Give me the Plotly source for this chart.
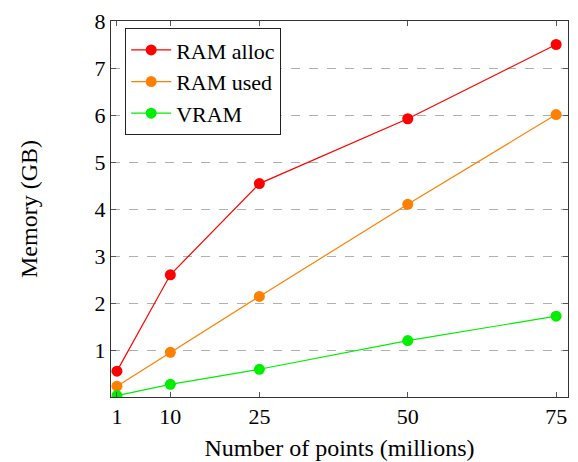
import plotly.graph_objects as go

points = [1, 10, 25, 50, 75]
ram_alloc = [0.55, 2.60, 4.54, 5.92, 7.50]
ram_used = [0.23, 0.95, 2.14, 4.10, 6.01]
vram = [0.03, 0.27, 0.59, 1.20, 1.72]
x_ticks = [1, 10, 25, 50, 75]
y_ticks = [1, 2, 3, 4, 5, 6, 7, 8]

FONT = "Liberation Serif"
series = [("RAM alloc", ram_alloc, "#ff0000"),
          ("RAM used", ram_used, "#ff8000"),
          ("VRAM", vram, "#00ee00")]

fig = go.Figure()
for name, vals, col in series:
    fig.add_trace(go.Scatter(x=points, y=vals, name=name, mode="lines+markers",
                             line=dict(color=col, width=1.2),
                             marker=dict(color=col, size=11)))

# page body has an 8px margin, so the figure is sized 570x454
fig.update_layout(
    width=570, height=454,
    margin=dict(l=103, r=10, t=13, b=65, autoexpand=False),
    paper_bgcolor="white", plot_bgcolor="white",
    font=dict(family=FONT, size=22, color="black"),
    showlegend=True,
    legend=dict(x=0.031, y=0.981, xanchor="left", yanchor="top",
                bordercolor="#222", borderwidth=1, bgcolor="white",
                font=dict(family=FONT, size=22), tracegroupgap=0,
                itemwidth=40),
)
fig.update_xaxes(range=[0, 77], tickvals=x_ticks, ticktext=[str(v) for v in x_ticks],
                 automargin=False,
                 showgrid=False, zeroline=False, showline=True, linecolor="#333",
                 linewidth=1, mirror="ticks", ticks="inside", ticklen=5, tickcolor="#555",
                 tickfont=dict(size=22),
                 title=dict(text="Number of points (millions)", font=dict(size=24), standoff=10))
fig.update_yaxes(range=[0, 8], tickvals=y_ticks, ticktext=[str(v) for v in y_ticks],
                 automargin=False, ticklabeloverflow="allow",
                 showgrid=True, gridcolor="#b0b0b0", griddash="dash", gridwidth=1,
                 zeroline=False, showline=True, linecolor="#333", linewidth=1,
                 mirror="ticks", ticks="inside", ticklen=5, tickcolor="#555",
                 tickfont=dict(size=22),
                 title=dict(text="Memory (GB)", font=dict(size=24), standoff=50))

fig.write_html("out.html")
